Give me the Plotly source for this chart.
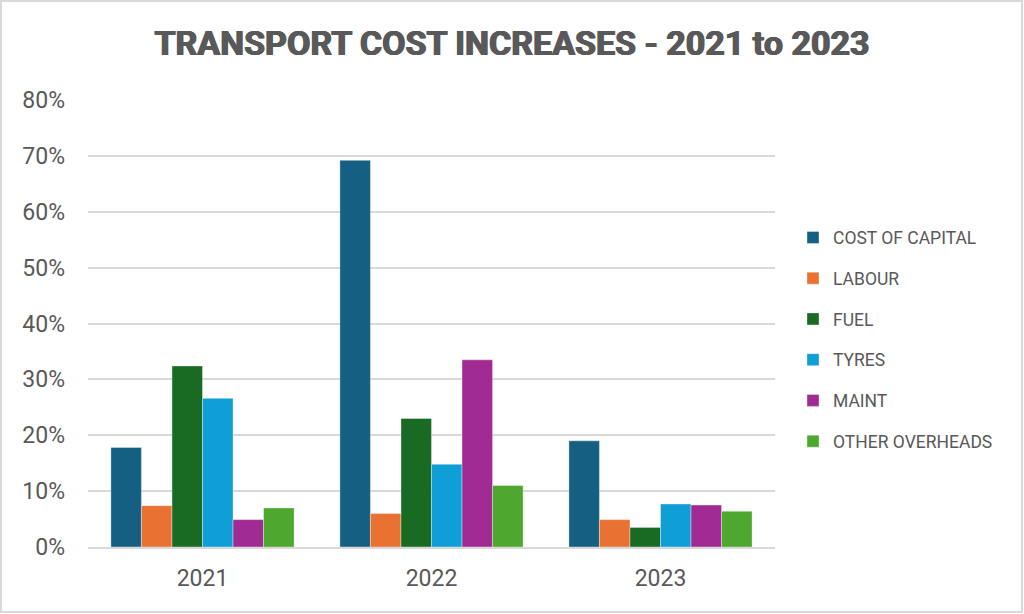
import plotly.graph_objects as go

# data (percent increase)
years = ["2021", "2022", "2023"]
series_names = ["COST OF CAPITAL", "LABOUR", "FUEL", "TYRES", "MAINT", "OTHER OVERHEADS"]
cost_of_capital = [0.178, 0.692, 0.190]
labour = [0.074, 0.060, 0.049]
fuel = [0.324, 0.230, 0.035]
tyres = [0.266, 0.148, 0.077]
maint = [0.049, 0.335, 0.075]
other_overheads = [0.070, 0.110, 0.064]
y_ticks = [0, 0.1, 0.2, 0.3, 0.4, 0.5, 0.6, 0.7, 0.8]

colors = ["#156082", "#E97132", "#196B24", "#0F9ED5", "#A02B93", "#4EA72E"]
values = [cost_of_capital, labour, fuel, tyres, maint, other_overheads]

W, H = 1024, 614
ml, mr, mt, mb = 88, 249, 100, 67
pw, ph = W - ml - mr, H - mt - mb

fig = go.Figure()
for i, (name, vals) in enumerate(zip(series_names, values)):
    fig.add_trace(go.Bar(
        name=name,
        x=years,
        y=vals,
        marker=dict(color=colors[i], line=dict(width=0.6, color="rgba(255,255,255,0.6)")),
        legendgroup=f"g{i}",
        hovertemplate="%{x}: %{y:.1%}<extra>" + name + "</extra>",
    ))

# pixel -> paper helpers (paper = plot area)
def px_to_paper_x(px):
    return (px - ml) / pw

def px_to_paper_y(py):
    return (H - mb - py) / ph

# thin grey frame round the whole picture (like the Excel chart area border)
fig.add_shape(type="rect", xref="paper", yref="paper",
              x0=px_to_paper_x(1), x1=px_to_paper_x(W - 2),
              y0=px_to_paper_y(H - 2), y1=px_to_paper_y(1),
              line=dict(color="#D9D9D9", width=2), fillcolor="rgba(0,0,0,0)",
              layer="below")

# no black-weight font installed, a tight shadow thickens the bold title a bit
title_shadow = "0.7px 0 0 #595959, -0.7px 0 0 #595959, 0 0.5px 0 #595959"

fig.update_layout(
    width=W, height=H,
    margin=dict(l=ml, r=mr, t=mt, b=mb),
    paper_bgcolor="white",
    plot_bgcolor="white",
    barmode="group",
    bargap=0.2,
    bargroupgap=0,
    font=dict(family="Roboto, Open Sans, sans-serif", color="#595959"),
    title=dict(
        text="<b>TRANSPORT COST INCREASES - 2021 to 2023</b>",
        x=0.5, xref="container", xanchor="center",
        y=1 - 43 / H, yanchor="middle",
        font=dict(family="Roboto, sans-serif", size=34, color="#595959",
                  shadow=title_shadow),
    ),
    xaxis=dict(
        showgrid=False,
        showline=True, linecolor="#D9D9D9", linewidth=1.5,
        ticks="", tickfont=dict(size=23, color="#595959"),
        ticklabelstandoff=10,
    ),
    yaxis=dict(
        range=[0, 0.8],
        tickvals=y_ticks,
        tickformat=".0%",
        showgrid=True, gridcolor="#D9D9D9", gridwidth=1.5,
        zeroline=False,
        ticks="", tickfont=dict(size=23, color="#595959"),
        ticklabelstandoff=22,
    ),
    legend=dict(
        x=px_to_paper_x(793), xanchor="left",
        y=px_to_paper_y(339.5), yanchor="middle",
        font=dict(size=17.5, color="#595959"),
        tracegroupgap=15,
        itemwidth=30,
        bgcolor="rgba(0,0,0,0)",
    ),
    showlegend=True,
)

# the page body has a default 8px margin; drop it so the chart fills the window
fig.write_html("out.html", config={"displayModeBar": False},
               post_script="document.body.style.margin='0';")
